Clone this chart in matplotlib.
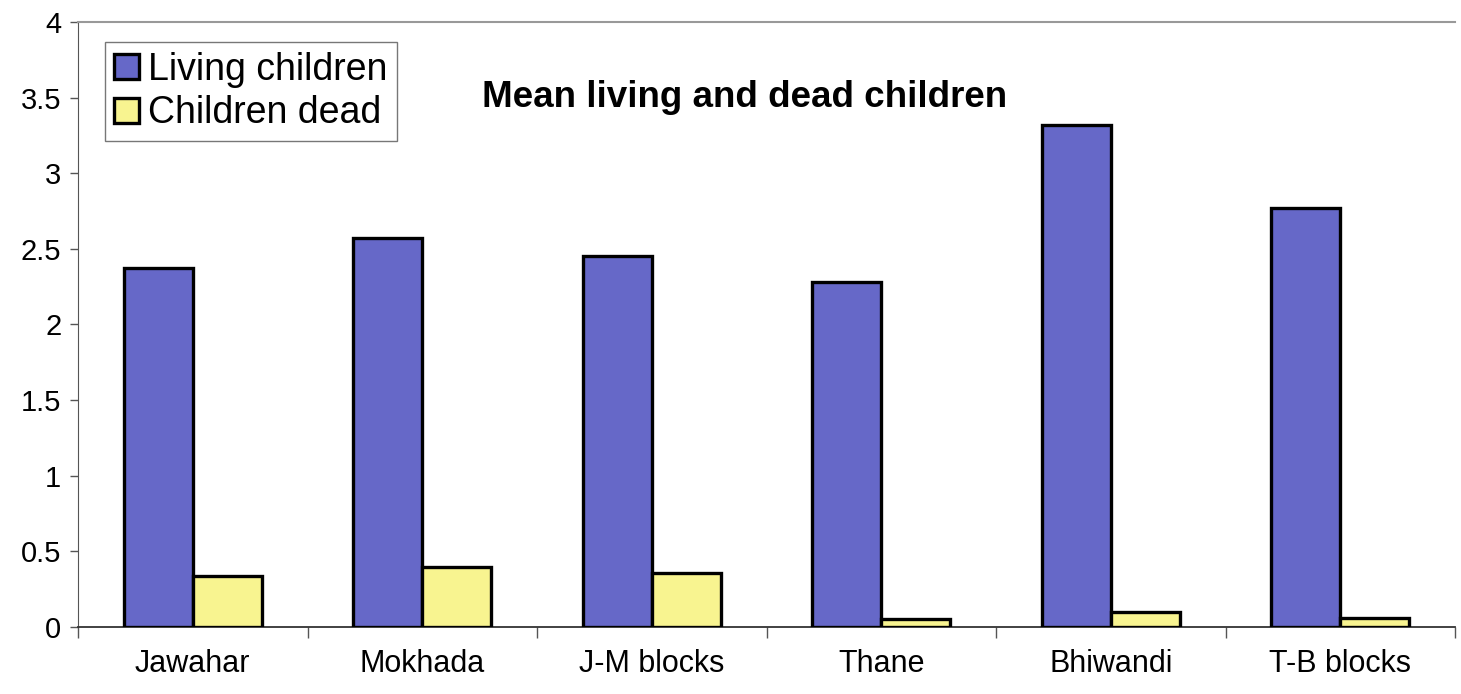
import matplotlib.pyplot as plt
import numpy as np

plt.rcParams['font.family'] = ['Liberation Sans', 'DejaVu Sans']

blocks = ['Jawahar', 'Mokhada', 'J-M blocks', 'Thane', 'Bhiwandi', 'T-B blocks']
living = [2.37, 2.57, 2.45, 2.28, 3.32, 2.77]
dead = [0.34, 0.40, 0.36, 0.05, 0.10, 0.06]
yticks = [0, 0.5, 1, 1.5, 2, 2.5, 3, 3.5, 4]
ytick_labels = ['0', '0.5', '1', '1.5', '2', '2.5', '3', '3.5', '4']

fig = plt.figure(figsize=(14.61, 6.94), dpi=100)
ax = fig.add_axes([0.0534, 0.0965, 0.9425, 0.872])

x = np.arange(len(blocks))
w = 0.3
ax.bar(x - w / 2, living, w, color='#6668c8', edgecolor='black', linewidth=2.4,
       label='Living children', zorder=3)
ax.bar(x + w / 2, dead, w, color='#f8f490', edgecolor='black', linewidth=2.4,
       label='Children dead', zorder=3)

ax.set_xlim(-0.5, len(blocks) - 0.5)
ax.set_ylim(0, 4)

# ticks between groups, labels at group centres
ax.set_xticks(np.arange(-0.5, len(blocks)), labels=[''] * (len(blocks) + 1))
ax.set_xticks(x, labels=blocks, minor=True)
ax.tick_params(axis='x', which='major', length=8, width=1, color='#555555', direction='out')
ax.tick_params(axis='x', which='minor', length=0, pad=16, labelsize=22)
ax.set_yticks(yticks, labels=ytick_labels)
ax.tick_params(axis='y', length=6, width=1, color='#555555', pad=6, labelsize=21)

ax.spines['right'].set_visible(False)
ax.spines['top'].set_color('#999999')
ax.spines['top'].set_linewidth(1.5)
ax.spines['left'].set_color('#555555')
ax.spines['bottom'].set_color('#333333')
ax.spines['bottom'].set_linewidth(1.3)

ax.text(0.484, 0.875, 'Mean living and dead children', transform=ax.transAxes,
        ha='center', va='center', fontsize=26.5, fontweight='bold')

leg = ax.legend(loc='upper left', bbox_to_anchor=(0.0195, 0.966), fontsize=27,
                fancybox=False, framealpha=1, edgecolor='#777777',
                handlelength=0.65, handleheight=0.65, handletextpad=0.25,
                borderpad=0.25, labelspacing=0.2, borderaxespad=0)
leg.get_frame().set_linewidth(1)

fig.savefig('out.png', dpi=100)
